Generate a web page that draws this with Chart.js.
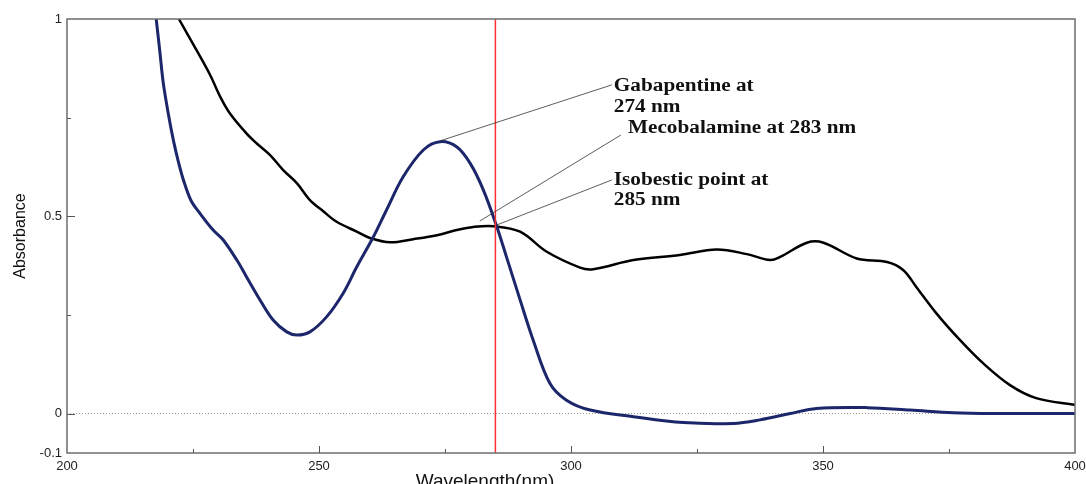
<!DOCTYPE html>
<html>
<head>
<meta charset="utf-8">
<script src="https://cdn.jsdelivr.net/npm/chart.js@4/dist/chart.umd.min.js"></script>
<style>
  html, body { margin: 0; padding: 0; background: #fff; }
  #wrap { width: 1086px; height: 484px; }
</style>
</head>
<body>
<div id="wrap"><canvas id="spectrum"></canvas></div>
<script>
// spectrum: wavelength (nm) vs absorbance
const gabaWl = [217.7, 218.4, 219.1, 220.1, 221.1, 222.1, 223.1, 224.6, 226.4, 229.0, 231.0, 233.7, 235.6, 238.3, 240.9, 243.6, 245.6, 248.2, 251.5, 254.8, 257.5, 260.8, 263.4, 266.7, 270.7, 274.0, 277.3, 280.0, 282.6, 285.3, 287.2, 289.9, 292.5, 295.8, 299.1, 303.8, 312.4, 322.3, 332.2, 337.5, 343.5, 348.7, 358.7, 367.3, 375.8, 383.8, 400];
const gabaAbs = [1.0, 0.92, 0.838, 0.76, 0.693, 0.638, 0.592, 0.54, 0.507, 0.465, 0.44, 0.389, 0.347, 0.288, 0.237, 0.207, 0.199, 0.207, 0.245, 0.305, 0.372, 0.448, 0.516, 0.600, 0.668, 0.689, 0.676, 0.634, 0.567, 0.473, 0.397, 0.288, 0.186, 0.077, 0.034, 0.009, -0.008, -0.023, -0.025, -0.016, 0.0, 0.013, 0.015, 0.009, 0.002, 0.0, 0.0];

const mecoWl = [222.2, 225.7, 228.4, 230.4, 232.3, 235.6, 237.6, 240.3, 242.9, 245.6, 248.2, 250.9, 253.5, 257.5, 260.1, 264.1, 268.7, 273.4, 277.3, 280.6, 284.6, 289.9, 295.2, 301.8, 304.4, 312.4, 321.6, 328.9, 334.9, 339.5, 341.5, 346.8, 350.1, 356.7, 362.7, 365.9, 368.5, 372.5, 377.2, 381.8, 387.1, 392.3, 400];
const mecoAbs = [1.0, 0.921, 0.858, 0.803, 0.761, 0.710, 0.685, 0.655, 0.617, 0.584, 0.541, 0.512, 0.486, 0.461, 0.445, 0.434, 0.442, 0.452, 0.465, 0.473, 0.475, 0.461, 0.41, 0.370, 0.366, 0.389, 0.402, 0.416, 0.404, 0.389, 0.397, 0.433, 0.433, 0.393, 0.384, 0.364, 0.321, 0.254, 0.186, 0.127, 0.072, 0.039, 0.022];

const isoWl = 285;
const yTickValues = [-0.1, 0, 0.5, 1];
const yMinorValues = [0.25, 0.75];

// callouts: [from wl, from abs, to wl, to abs]
const calloutLines = [
  [274.0, 0.691, 308.1, 0.833],
  [281.9, 0.488, 309.9, 0.706],
  [285.3, 0.478, 308.1, 0.592],
];
const calloutTexts = [
  ['Gabapentine at', 308.5, 0.830],
  ['274 nm', 308.5, 0.777],
  ['Mecobalamine at 283 nm', 311.3, 0.722],
  ['Isobestic point at', 308.5, 0.592],
  ['285 nm', 308.5, 0.541],
];

const pts = (xs, ys) => xs.map((x, i) => ({ x, y: ys[i] }));

const frame = {
  id: 'frame',
  afterDraw(chart) {
    const { ctx, chartArea: a, scales: { x, y } } = chart;
    ctx.save();
    ctx.strokeStyle = '#6e6e6e';
    ctx.lineWidth = 1.5;
    ctx.strokeRect(a.left, a.top, a.right - a.left, a.bottom - a.top);
    ctx.lineWidth = 1;
    ctx.strokeStyle = '#555';
    ctx.beginPath();
    for (let v = 225; v < 400; v += 25) {
      const px = Math.round(x.getPixelForValue(v)) + 0.5;
      const len = v % 50 === 0 ? 7 : 4;
      ctx.moveTo(px, a.bottom);
      ctx.lineTo(px, a.bottom - len);
    }
    [0, 0.5].concat(yMinorValues).forEach(v => {
      const py = Math.round(y.getPixelForValue(v)) + 0.5;
      const len = yMinorValues.includes(v) ? 4 : 8;
      ctx.moveTo(a.left, py);
      ctx.lineTo(a.left + len, py);
    });
    ctx.stroke();

    // axis titles
    ctx.fillStyle = '#111';
    ctx.font = '19px "Liberation Sans", Arial, sans-serif';
    ctx.textAlign = 'center';
    ctx.textBaseline = 'alphabetic';
    ctx.fillText('Wavelength(nm)', 485, 487);
    ctx.translate(21, 236);
    ctx.rotate(-Math.PI / 2);
    ctx.font = '16px "Liberation Sans", Arial, sans-serif';
    ctx.textBaseline = 'middle';
    ctx.fillText('Absorbance', 0, 0);
    ctx.restore();
  },
};

const callouts = {
  id: 'callouts',
  afterDatasetsDraw(chart) {
    const { ctx, scales: { x, y } } = chart;
    ctx.save();
    ctx.strokeStyle = '#333';
    ctx.lineWidth = 0.8;
    ctx.beginPath();
    calloutLines.forEach(([x0, y0, x1, y1]) => {
      ctx.moveTo(x.getPixelForValue(x0), y.getPixelForValue(y0));
      ctx.lineTo(x.getPixelForValue(x1), y.getPixelForValue(y1));
    });
    ctx.stroke();
    ctx.fillStyle = '#111';
    ctx.font = 'bold 18px "Liberation Serif", "Times New Roman", serif';
    ctx.textBaseline = 'middle';
    calloutTexts.forEach(([t, wl, ab]) => {
      ctx.save();
      ctx.translate(x.getPixelForValue(wl), y.getPixelForValue(ab));
      ctx.scale(1.18, 1);
      ctx.fillText(t, 0, 0);
      ctx.restore();
    });
    ctx.restore();
  },
};

new Chart(document.getElementById('spectrum'), {
  type: 'line',
  data: {
    datasets: [
      { data: pts([isoWl, isoWl], [-0.1, 1]), borderColor: '#ff3030', borderWidth: 1.5, pointRadius: 0, tension: 0 },
      { data: pts(gabaWl, gabaAbs), borderColor: '#1c266b', borderWidth: 3, pointRadius: 0, tension: 0.35 },
      { data: pts(mecoWl, mecoAbs), borderColor: '#000', borderWidth: 2.5, pointRadius: 0, tension: 0.35 },
      { data: pts([200, 400], [0, 0]), borderColor: '#9a9a9a', borderWidth: 1, borderDash: [1, 2], pointRadius: 0 },
    ],
  },
  options: {
    responsive: true,
    maintainAspectRatio: false,
    animation: false,
    layout: { padding: { top: 19, right: 11, left: 0, bottom: 0 } },
    plugins: { legend: { display: false }, tooltip: { enabled: false } },
    scales: {
      x: {
        type: 'linear', min: 200, max: 400,
        grid: { display: false, drawTicks: false },
        border: { display: false },
        ticks: { stepSize: 50, padding: 6, maxRotation: 0, color: '#222', font: { family: '"Liberation Sans", Arial, sans-serif', size: 13 } },
        afterFit: s => { s.height = 31; s.paddingLeft = 0; s.paddingRight = 0; },
      },
      y: {
        min: -0.1, max: 1,
        grid: { display: false, drawTicks: false },
        border: { display: false },
        afterBuildTicks: s => { s.ticks = yTickValues.map(v => ({ value: v })); },
        ticks: { padding: 5, color: '#222', callback: v => String(v), font: { family: '"Liberation Sans", Arial, sans-serif', size: 13 } },
        afterFit: s => { s.width = 67; s.paddingTop = 0; s.paddingBottom = 0; },
      },
    },
  },
  plugins: [frame, callouts],
});
</script>
</body>
</html>
